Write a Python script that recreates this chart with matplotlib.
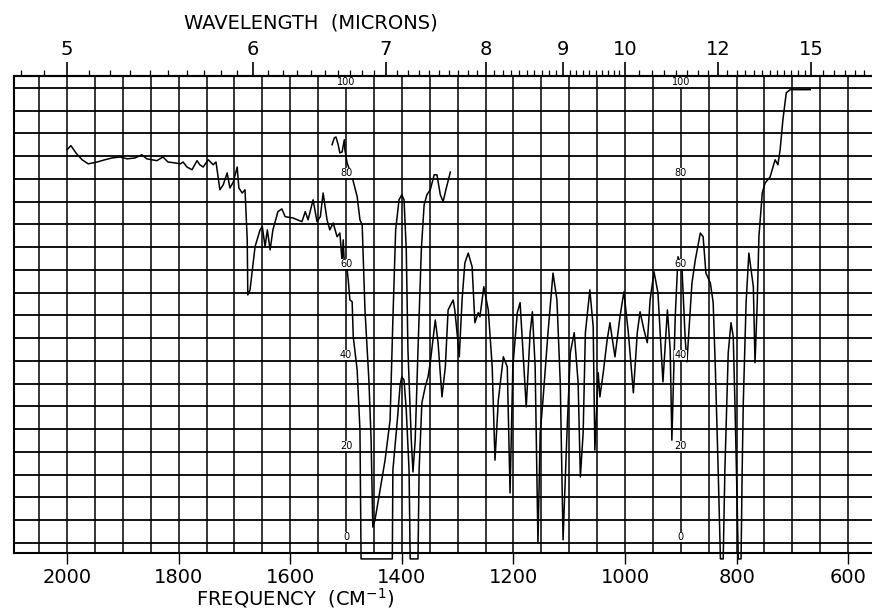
import numpy as np
import matplotlib
matplotlib.use('Agg')
import matplotlib.pyplot as plt

# main trace (frequency cm-1, % transmittance); -3.5 = pen off the chart
freq_main = [2000, 1993, 1984, 1973, 1962, 1946, 1932, 1919, 1905, 1892, 1878, 1866, 1857,
             1848, 1839, 1828, 1819, 1806, 1797, 1792, 1785, 1776, 1767, 1762, 1756, 1747,
             1738, 1733, 1726, 1720, 1713, 1708, 1702, 1695, 1692, 1686, 1681, 1677, 1676,
             1672, 1663, 1654, 1650, 1645, 1641, 1636, 1631, 1622, 1615, 1609, 1595, 1579,
             1573, 1568, 1559, 1552, 1546, 1541, 1534, 1529, 1523, 1516, 1511, 1507, 1505,
             1503, 1498, 1496, 1493, 1489, 1487, 1480, 1475, 1473, 1417, 1416, 1408, 1403,
             1400, 1396, 1392, 1387, 1385, 1371, 1369, 1364, 1358, 1353, 1349, 1340, 1335,
             1328, 1322, 1317, 1308, 1305, 1301, 1297, 1292, 1287, 1281, 1274, 1269, 1263,
             1260, 1253, 1245, 1238, 1233, 1227, 1218, 1211, 1206, 1201, 1193, 1188, 1183,
             1177, 1170, 1166, 1161, 1156, 1152, 1147, 1138, 1129, 1122, 1116, 1111, 1104,
             1098, 1091, 1084, 1080, 1075, 1071, 1063, 1057, 1054, 1048, 1045, 1039, 1032,
             1027, 1018, 1009, 1002, 994, 985, 978, 973, 966, 960, 955, 948, 941, 932, 924,
             919, 916, 910, 905, 898, 892, 889, 880, 874, 865, 860, 855, 847, 842, 838, 833,
             829, 824, 821, 815, 810, 806, 803, 799, 797, 792, 790, 788, 783, 778, 770, 767,
             763, 760, 754, 749, 740, 731, 726, 722, 717, 711, 704, 668]
trans_main = [86.4, 87.3, 85.7, 84.2, 83.3, 83.7, 84.2, 84.6, 84.8, 84.4, 84.6, 85.3, 84.4,
              84.2, 84.0, 84.8, 83.7, 83.5, 83.3, 83.7, 82.6, 82.0, 84.0, 83.1, 82.6, 84.2,
              83.1, 83.7, 77.6, 78.7, 81.3, 78.0, 79.3, 82.6, 78.0, 76.9, 77.6, 66.6, 54.5,
              55.6, 65.1, 68.8, 69.5, 65.1, 68.8, 64.4, 68.8, 72.8, 73.4, 71.7, 71.4, 70.6,
              72.8, 71.0, 75.4, 70.6, 71.7, 76.9, 71.0, 68.8, 70.3, 67.3, 68.1, 61.8, 66.6,
              61.3, 60.0, 57.8, 53.4, 53.0, 45.3, 38.0, 24.8, -3.5, -3.5, 16.0, 27.0, 34.7,
              36.5, 35.8, 29.2, 16.0, -3.5, -3.5, 16.0, 30.8, 34.3, 36.5, 39.6, 49.0, 44.0,
              32.1, 38.7, 51.2, 53.4, 51.2, 46.2, 40.9, 53.4, 61.5, 63.7, 60.7, 48.4, 50.6,
              49.7, 56.3, 51.2, 38.7, 18.2, 31.4, 40.9, 38.7, 11.0, 38.7, 50.6, 52.8, 42.4,
              29.9, 46.2, 50.8, 38.7, 0.0, 24.2, 31.4, 46.2, 59.3, 53.4, 35.2, 0.7, 24.2,
              41.8, 46.2, 35.2, 14.5, 24.2, 46.2, 55.6, 47.5, 20.4, 37.4, 32.1, 37.4, 44.6,
              48.4, 40.9, 49.7, 55.2, 46.2, 33.0, 46.2, 50.8, 46.8, 44.0, 53.4, 59.6, 55.0,
              35.4, 51.2, 42.4, 22.6, 49.7, 62.9, 60.7, 44.6, 39.8, 57.1, 62.2, 68.1, 67.3,
              59.3, 57.1, 52.8, 38.0, 16.0, -3.5, -3.5, 16.0, 41.8, 48.4, 45.3, 30.8, 8.8,
              -3.5, -3.5, 16.0, 30.8, 52.8, 63.7, 56.3, 39.6, 52.8, 67.3, 76.9, 79.1, 80.4,
              84.2, 83.1, 86.4, 93.0, 98.9, 99.6, 99.6]

# second (thin film) trace over the strong bands
freq_thin = [1525, 1521, 1518, 1514, 1511, 1507, 1503, 1502, 1498, 1489, 1480, 1475, 1471,
             1469, 1466, 1462, 1459, 1455, 1452, 1448, 1439, 1430, 1421, 1416, 1411, 1405,
             1400, 1396, 1392, 1389, 1383, 1380, 1376, 1371, 1365, 1360, 1355, 1349, 1342,
             1337, 1331, 1326, 1321, 1313]
trans_thin = [87.5, 89.0, 89.2, 87.5, 85.7, 85.9, 88.6, 86.4, 83.5, 80.4, 76.1, 71.0, 69.9,
              62.2, 51.2, 42.4, 35.8, 22.6, 3.5, 5.1, 11.6, 18.2, 27.0, 49.0, 68.8, 75.4,
              76.5, 75.4, 64.4, 42.4, 22.6, 15.6, 22.6, 42.4, 64.4, 74.3, 76.5, 77.6, 80.9,
              80.9, 76.5, 75.0, 77.6, 81.5]

freq_ticks = [2000, 1800, 1600, 1400, 1200, 1000, 800, 600]
micron_ticks = [5, 6, 7, 8, 9, 10, 12, 15]
scale_labels = [100, 80, 60, 40, 20, 0]
scale_label_freqs = [1500, 900]

fig = plt.figure(figsize=(8.72, 6.11), dpi=100)
ax = fig.add_axes([14 / 872, 58 / 611, 866 / 872, 477 / 611])
ax.set_xlim(2095, 543)
ax.set_ylim(-2.2, 102.6)

for f in np.arange(2050, 540, -50):
    ax.axvline(f, color='black', lw=1.1, zorder=1)
for t in np.arange(0, 101, 5):
    ax.axhline(t, color='black', lw=1.3, zorder=1)

ax.plot(freq_main, trans_main, color='black', lw=1.1, clip_on=False, zorder=3)
ax.plot(freq_thin, trans_thin, color='black', lw=1.1, clip_on=False, zorder=3)

for f in scale_label_freqs:
    for t in scale_labels:
        ax.text(f, t + 1.3, str(t), fontsize=7, ha='center', va='center',
                zorder=4, bbox=dict(facecolor='white', edgecolor='none', pad=0.3))

for s in ax.spines.values():
    s.set_linewidth(1.5)

ax.set_yticks([])
ax.set_xticks(freq_ticks)
ax.set_xticklabels([str(f) for f in freq_ticks], fontsize=14)
ax.tick_params(axis='x', direction='out', length=8, width=1, pad=3)

top = ax.secondary_xaxis('top')
top.set_xticks([10000 / m for m in micron_ticks])
top.set_xticklabels([str(m) for m in micron_ticks], fontsize=14)
minor_um = np.concatenate([np.arange(4.8, 10.0, 0.1), np.arange(10.0, 15.0, 0.25),
                           np.arange(15.0, 18.5, 0.5)])
top.set_xticks([10000 / m for m in minor_um], minor=True)
top.tick_params(axis='x', which='major', direction='out', length=10, width=1.2, pad=2)
top.tick_params(axis='x', which='minor', direction='out', length=4, width=0.9)
top.spines['top'].set_linewidth(1.5)

fig.text(0.357, 0.962, 'WAVELENGTH  (MICRONS)', fontsize=14, ha='center', va='center')
fig.text(0.339, 0.021, 'FREQUENCY  (CM$^{-1}$)', fontsize=14, ha='center', va='center')

fig.savefig('out.png', dpi=100)
